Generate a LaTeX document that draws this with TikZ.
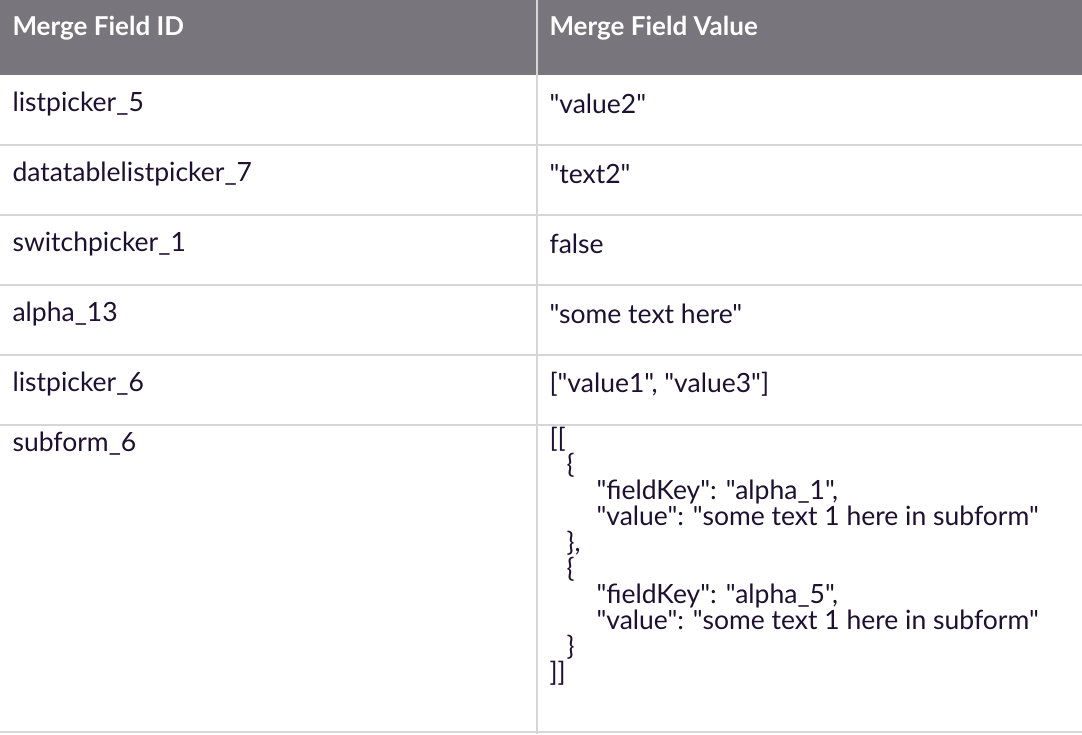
\documentclass[tikz,border=0pt]{standalone}
\usepackage{fontspec}
\setmainfont{Lato}[Ligatures=TeXOff]
\definecolor{headgray}{HTML}{78767C}
\definecolor{rulegray}{HTML}{D6D6D6}
\definecolor{inkpurple}{HTML}{1E1030}
\newcommand\dq{"}
\begin{document}
\begin{tikzpicture}[x=1pt,y=-1pt,
  headtext/.style={anchor=west,text=white,font=\fontsize{26}{30}\selectfont\bfseries},
  celltext/.style={anchor=west,text=inkpurple,font=\fontsize{26.5}{30}\selectfont},
  gridline/.style={draw=rulegray,line width=2pt}]
  \useasboundingbox (0,0) rectangle (1082,734);
  \fill[headgray] (0,0) rectangle (1082,75);
  % rows
  \foreach \y in {145,215,285,355,425,732}
    \draw[gridline] (0,\y) -- (1082,\y);
  \draw[gridline] (537,0) -- (537,734);
  \node[headtext] (idhead) at (9,28) {Merge Field ID};
  \node[headtext] (valhead) at (546,28) {Merge Field Value};
  \foreach \y/\key/\val [count=\i] in {
    104/listpicker\_5/\dq value2\dq,
    174/datatablelistpicker\_7/\dq text2\dq,
    244/switchpicker\_1/false,
    314/alpha\_13/\dq some text here\dq,
    384/listpicker\_6/{[\dq value1\dq, \dq value3\dq]},
    444/subform\_6/{}}{
    \node[celltext] (key\i) at (9,\y) {\key};
    \node[celltext] (val\i) at (546,\y) {\val};
  }
  \node[celltext,anchor=north west,align=left,font=\fontsize{26.5}{26}\selectfont] (subval) at (546,424) {
    [[\\
    \hspace*{17pt}\{\\
    \hspace*{47pt}\dq f{}ieldKey\dq: \dq alpha\_1\dq,\\
    \hspace*{47pt}\dq value\dq: \dq some text 1 here in subform\dq\\
    \hspace*{17pt}\},\\
    \hspace*{17pt}\{\\
    \hspace*{47pt}\dq f{}ieldKey\dq: \dq alpha\_5\dq,\\
    \hspace*{47pt}\dq value\dq: \dq some text 1 here in subform\dq\\
    \hspace*{17pt}\}\\
    ]]};
\end{tikzpicture}
\end{document}
